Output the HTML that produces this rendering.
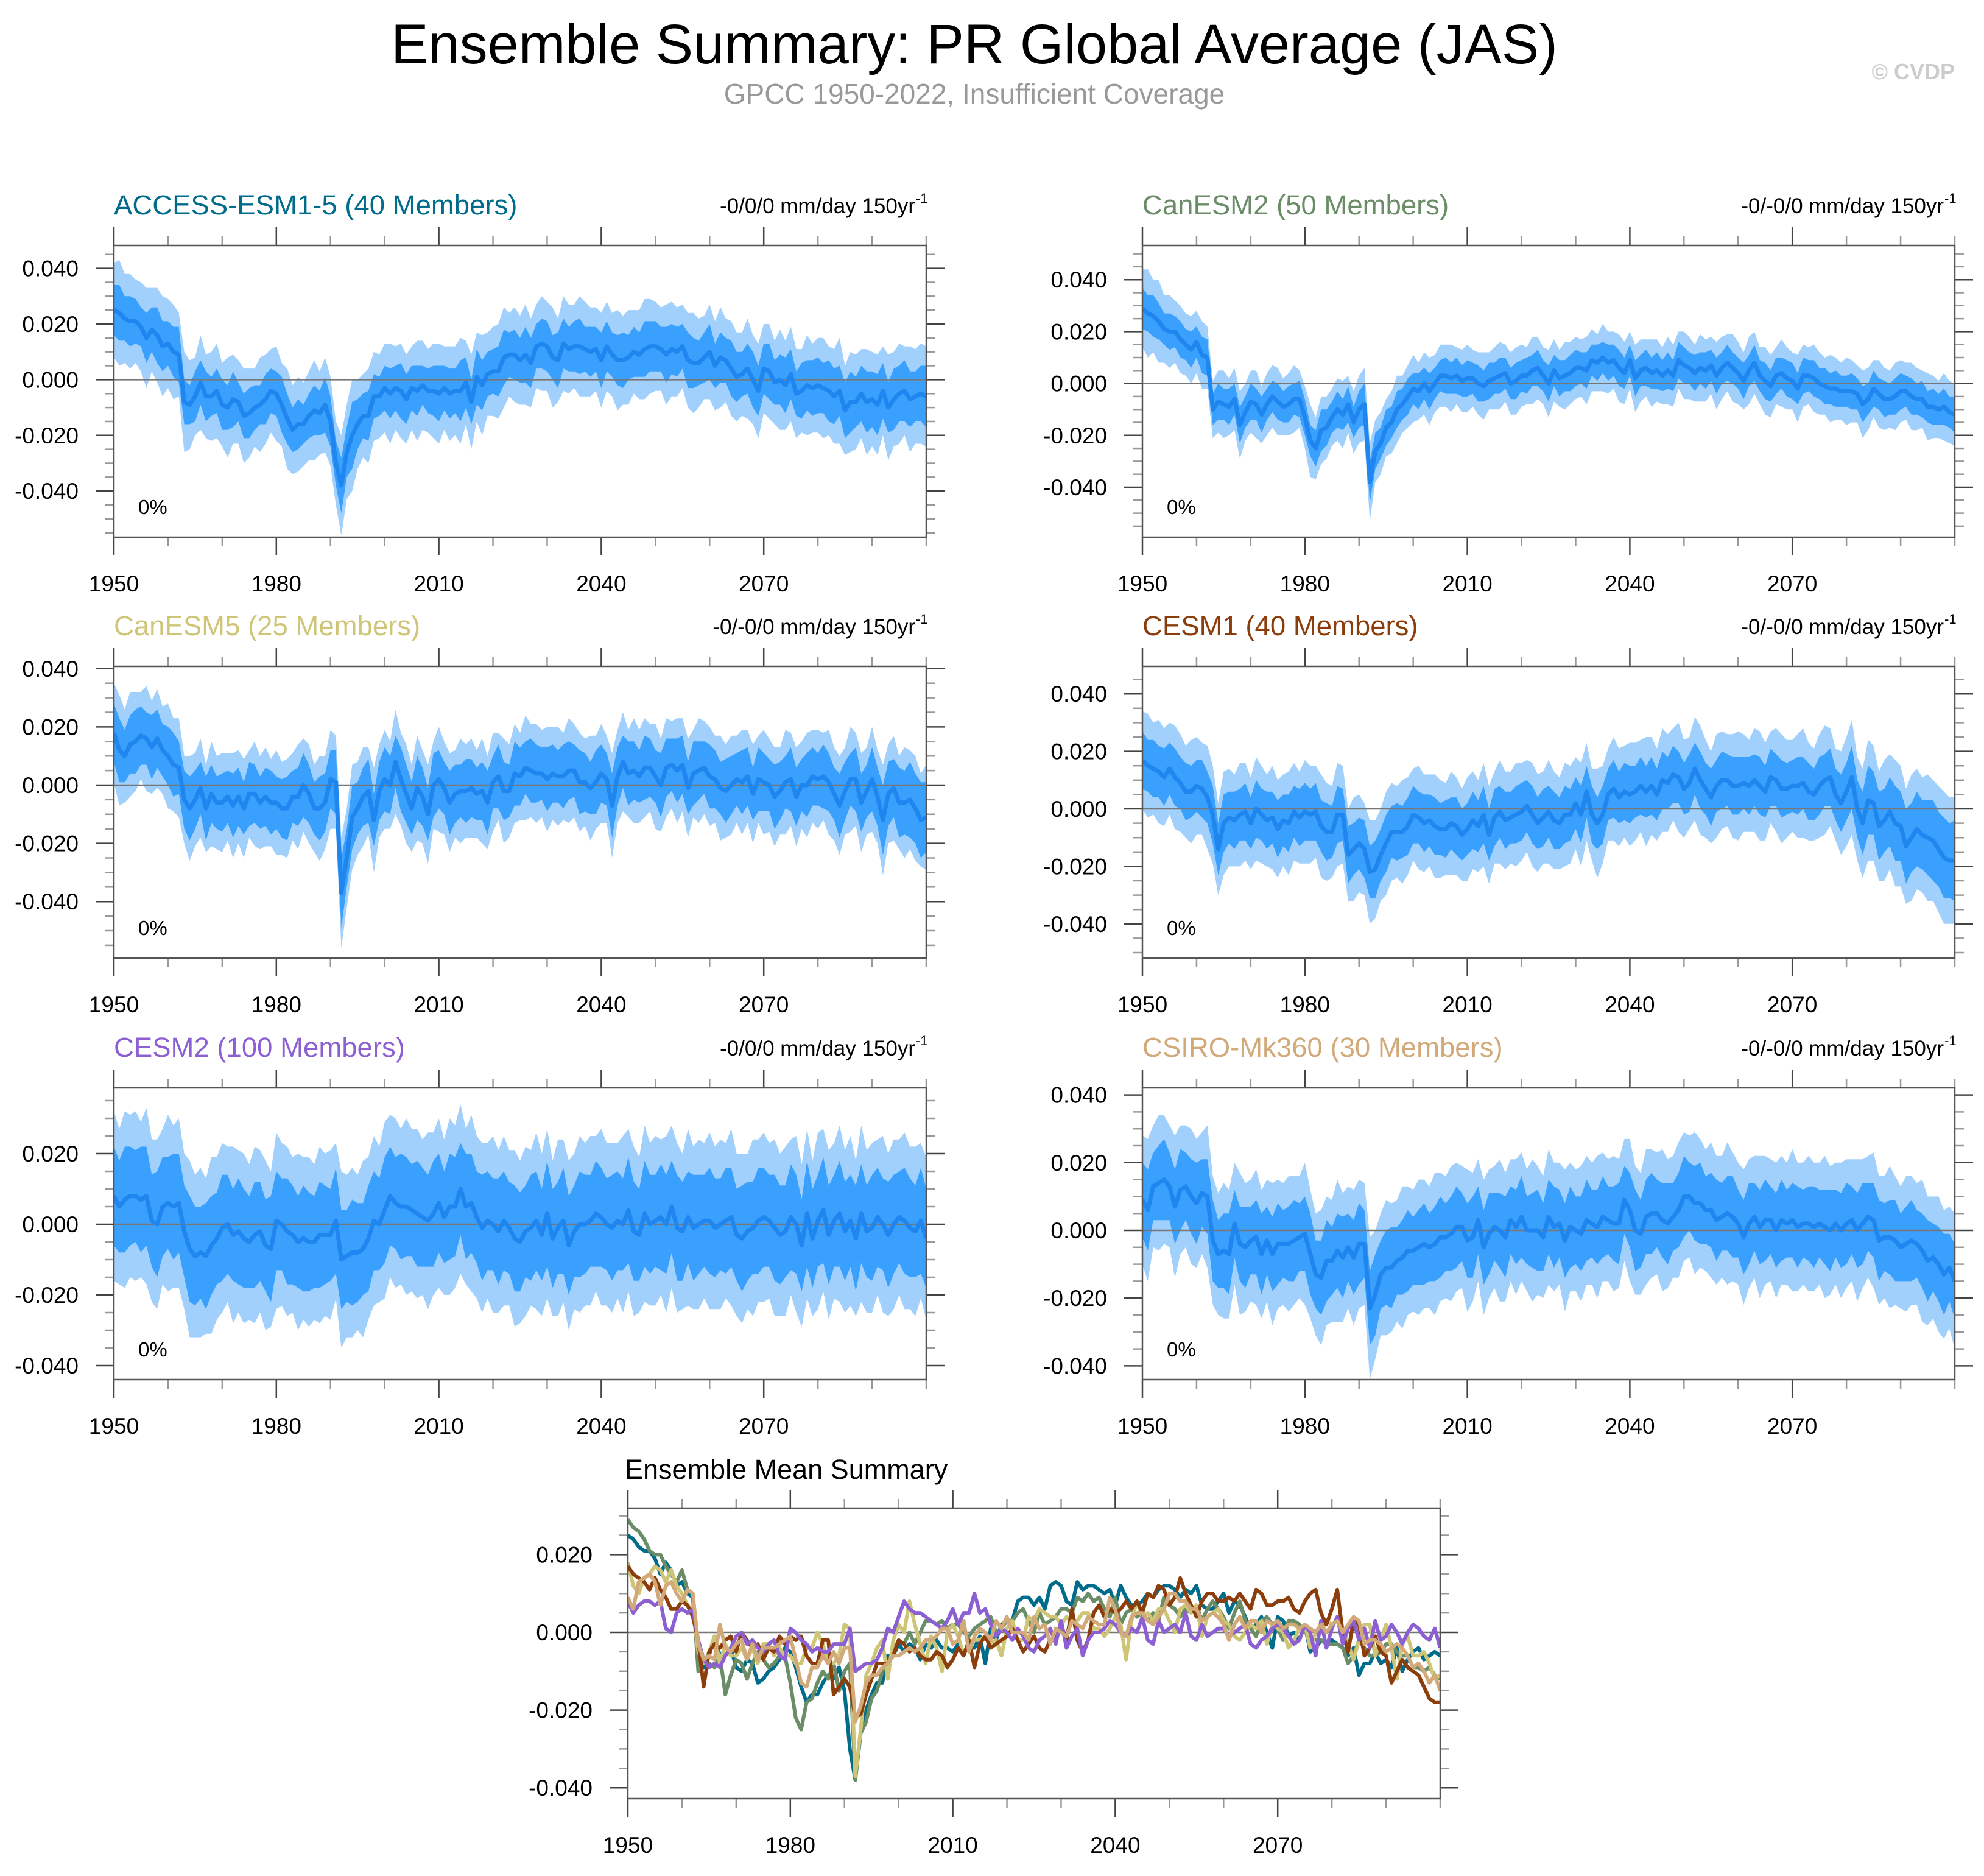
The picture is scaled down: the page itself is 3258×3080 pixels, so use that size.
<!DOCTYPE html>
<html><head><meta charset="utf-8"><title>Ensemble Summary</title>
<style>
html,body{margin:0;padding:0;background:#fff;}
body{width:3258px;height:3075px;overflow:hidden;font-family:"Liberation Sans",Arial,sans-serif;}
svg text{font-family:"Liberation Sans",Arial,sans-serif;}
</style></head>
<body>
<svg id="fig" xmlns="http://www.w3.org/2000/svg" width="3258" height="3075" viewBox="0 0 3258 3075">
<text x="1600" y="104" font-size="92" text-anchor="middle" fill="#000">Ensemble Summary: PR Global Average (JAS)</text>
<text x="1600" y="170" font-size="46" text-anchor="middle" fill="#999">GPCC 1950-2022, Insufficient Coverage</text>
<text x="3210" y="130" font-size="36" font-weight="bold" text-anchor="end" fill="#ccc">© CVDP</text>
<g id="plots"></g>
</svg>
<script>
const yearStart = 1950;
const yearEnd = 2100;
const xTickYears = [1950,1980,2010,2040,2070];
const modelNames = ["ACCESS-ESM1-5 (40 Members)","CanESM2 (50 Members)","CanESM5 (25 Members)","CESM1 (40 Members)","CESM2 (100 Members)","CSIRO-Mk360 (30 Members)"];
const trendLabels = ["-0/0/0 mm/day 150yr","-0/-0/0 mm/day 150yr","-0/-0/0 mm/day 150yr","-0/-0/0 mm/day 150yr","-0/0/0 mm/day 150yr","-0/-0/0 mm/day 150yr"];
const pctLabels = ["0%","0%","0%","0%","0%","0%"];
const yTicksA = [0.04,0.02,0,-0.02,-0.04];
const yTicksB = [0.02,0,-0.02,-0.04];
const summaryYTicks = [0.02,0,-0.02,-0.04];

// ensemble means (units of 0.001 mm/day), 1950..2100
const meanACCESS = [25,24,22,21,21,19,15,18,16,12, 13,10,9,-8,-9,-6,-1,-6,-6,-4, -9,-10,-7,-8,-13,-12,-10,-9,-7,-4, -5,-9,-14,-18,-16,-16,-13,-11,-12,-9, -15,-30,-38,-26,-20,-16,-13,-13,-6,-6, -3,-5,-3,-4,-7,-3,-4,-2,-4,-4, -5,-3,-5,-4,-4,-1,-8,1,-2,2, 3,3,8,9,9,7,9,6,12,13, 12,8,7,13,11,12,12,11,10,11, 7,12,9,7,7,8,10,9,11,12, 12,11,9,11,10,12,7,6,6,8, 10,5,8,7,4,1,2,4,0,-4, 4,3,-1,0,-2,2,-5,-4,-2,-3, -2,-3,-4,-6,-4,-11,-8,-8,-5,-8, -7,-9,-4,-10,-7,-5,-4,-7,-6,-5, -6];
const meanCanESM2 = [29,27,26,24,21,20,20,17,15,13, 16,11,10,-10,-7,-8,-9,-6,-16,-11, -7,-8,-12,-8,-5,-7,-9,-8,-6,-6, -13,-22,-25,-18,-17,-13,-10,-12,-8,-15, -10,-8,-38,-26,-23,-17,-15,-10,-8,-5, -2,-3,0,-3,0,3,3,2,3,1, 2,2,0,-1,1,2,3,4,0,1, 3,3,5,6,3,0,5,2,3,4, 6,6,5,9,8,10,8,9,6,4, 9,2,5,6,4,5,3,5,3,9, 7,6,4,6,5,7,3,6,8,6, 4,1,5,8,3,1,-1,3,4,2, 1,-2,3,3,2,0,-1,-2,-2,-3, -3,-3,-4,-8,-6,-2,-4,-6,-6,-5, -3,-3,-5,-6,-6,-9,-9,-10,-9,-11, -12];
const meanCanESM5 = [18,12,10,14,15,17,16,13,16,12, 10,7,6,-5,-8,-5,-1,-8,-3,-6, -6,-4,-7,-4,-8,-3,-3,-6,-4,-6, -6,-8,-8,-4,-4,0,-3,-8,-8,-6, 2,1,-37,-25,-11,-8,-4,-2,-12,-2, 2,0,8,2,-3,-8,-1,-4,-10,0, 2,-1,-6,-3,-2,-2,-1,-3,-2,-6, 1,3,-2,-2,4,3,6,5,4,4, 2,4,3,3,5,5,1,1,-1,1, 4,2,-7,3,8,4,5,3,6,6, 3,0,6,7,5,7,-1,4,5,6, 3,2,-1,-2,0,2,1,3,-3,2, 1,0,-4,-2,1,2,-4,0,0,3, 2,3,1,-3,-7,-2,2,2,-6,-2, 2,-4,-12,-3,-1,-6,-6,-5,-8,-12, -11];
const meanCESM1 = [17,15,14,13,11,14,11,9,6,6, 8,7,4,-2,-14,-5,-3,-4,-2,-1, -5,0,-2,-4,-3,-7,-4,-5,-1,-3, -1,-2,-1,-6,-8,-8,-2,-2,-16,-14, -12,-14,-22,-21,-16,-12,-8,-8,-8,-6, -2,-3,-5,-4,-6,-7,-7,-5,-6,-9, -7,-4,-6,-2,-9,-3,-1,-4,-3,-2, -1,1,-2,-5,-3,-1,-4,-5,-2,-2, 2,-2,6,-2,-5,-2,5,7,4,6, 5,6,8,6,8,5,10,9,12,11, 7,9,14,10,7,4,8,10,10,8, 8,9,8,10,8,6,11,10,7,7, 8,8,9,6,5,8,10,11,5,2, 6,11,0,-5,3,2,-6,-4,-1,-5, -6,-13,-10,-7,-9,-10,-11,-14,-17,-18, -18];
const meanCESM2 = [8,5,7,8,8,7,8,1,0,5, 6,5,6,-2,-7,-9,-8,-9,-6,-4, -1,0,-3,-2,-4,-5,-3,-2,-6,-7, 1,0,-2,-3,-5,-4,-5,-5,-3,-3, -3,1,-10,-9,-8,-8,-7,-4,1,0, 4,8,6,5,5,4,3,2,1,3, 6,2,5,5,10,5,6,2,-1,1, 0,-2,1,-1,-4,-5,-2,-1,1,-3, 3,-4,-1,1,-6,-2,0,0,1,3, 2,0,-1,1,0,4,-2,-3,3,0, 1,2,0,5,-1,-2,2,-1,0,1, 1,-1,0,1,2,-3,-4,-2,-1,1, 2,1,-1,-3,-2,2,0,-6,3,-4, 1,4,-3,1,3,-2,1,-4,3,-2, -1,2,0,-3,0,2,1,-1,-2,1, -4];
const meanCSIRO = [9,6,13,14,15,13,7,12,13,10, 8,11,10,-3,-7,-6,-7,2,-4,-5, -3,-2,-7,-3,-7,-4,-4,-4,-3,-2, -1,-7,-13,-14,-9,-9,-6,-8,-5,-8, -4,-4,-23,-19,-13,-11,-11,-9,-8,-6, -6,-5,-4,-5,-4,-2,-2,-1,1,1, -3,-2,3,-5,-1,1,0,-2,3,1, 4,0,0,0,-2,4,1,2,-3,1, 0,-1,3,2,1,4,3,2,2,9, 6,0,-1,4,5,5,3,2,4,6, 10,10,8,8,6,6,3,4,5,4, 2,-2,2,4,1,3,3,0,3,2, 3,1,2,2,1,2,1,0,2,0, 2,3,0,2,4,3,-3,-2,-2,-3, -5,-4,-3,-4,-6,-9,-8,-10,-13,-11, -15];

// band half-widths (0.001 units): inner (25-75%) and outer (10-90%)
const innerACCESS = [9,10,8,9,8,7,9,8,10,9, 8,9,10,8,7,9,8,9,7,8, 9,8,10,7,8,9,8,7,9,8, 8,10,9,8,9,7,8,9,8,10, 9,8,10,9,12,9,8,9,8,7, 8,9,8,10,9,8,9,7,8,9, 10,8,9,8,11,9,8,10,9,8, 8,9,10,8,9,8,10,9,8,9, 9,8,10,9,8,9,10,8,9,8, 10,9,8,9,10,8,9,8,10,9, 9,8,10,9,9,8,10,9,8,9, 10,8,9,8,10,9,8,9,10,9, 9,10,8,9,10,9,8,10,9,10, 10,9,11,10,9,10,11,9,10,11, 10,11,10,9,11,10,11,10,9,10, 11];
const outerACCESS = [17,19,16,17,15,16,18,15,17,18, 16,17,15,18,16,14,17,15,16,17, 15,18,16,15,17,16,14,17,16,15, 17,15,18,16,17,15,16,18,15,17, 16,15,18,17,20,16,15,17,16,15, 16,18,15,17,16,15,18,16,15,17, 18,15,17,16,19,15,17,16,18,15, 16,17,18,15,17,16,18,16,15,17, 16,18,15,17,16,15,18,17,16,15, 17,16,15,18,16,17,15,16,18,17, 16,15,18,17,16,15,17,18,16,15, 17,16,18,15,17,16,15,18,16,17, 16,17,15,18,16,17,16,15,18,16, 17,18,16,17,19,16,18,17,16,19, 17,18,16,19,17,18,16,19,17,18, 18];
const innerCanESM2 = [8,7,8,7,6,7,6,7,6,7, 6,7,7,6,7,6,7,6,7,6, 7,6,7,6,6,7,6,7,6,7, 7,6,7,8,7,6,7,6,7,6, 7,8,8,7,6,7,6,7,6,7, 6,7,6,7,6,6,7,6,7,6, 7,6,7,6,7,6,7,6,6,7, 6,7,6,7,6,7,6,7,6,7, 7,6,7,6,7,6,7,6,7,6, 6,7,6,7,6,7,6,7,6,7, 7,6,7,6,7,6,7,6,7,6, 6,7,6,7,6,7,6,7,6,7, 7,6,7,6,7,6,7,6,7,6, 6,7,6,7,6,7,6,7,6,7, 7,6,7,6,7,6,7,6,7,6, 7];
const outerCanESM2 = [15,17,14,16,13,14,12,13,12,13, 12,13,12,11,12,13,11,12,13,11, 12,13,11,12,12,13,11,12,13,11, 12,14,12,13,12,11,12,13,11,12, 13,14,15,12,12,11,12,13,11,12, 13,11,12,13,11,12,12,13,11,12, 13,11,12,13,11,12,13,11,12,13, 12,11,13,12,11,13,12,11,13,12, 12,11,13,12,11,13,12,11,13,12, 11,13,12,11,13,12,11,13,12,11, 13,12,11,13,12,11,13,12,11,13, 12,11,13,12,11,13,12,11,13,12, 11,13,12,11,13,12,11,13,12,11, 13,12,11,13,12,11,13,12,11,13, 12,11,13,12,11,13,12,11,13,12, 12];
const innerCanESM5 = [10,11,9,10,11,10,9,11,10,9, 10,11,9,10,11,10,9,11,10,9, 10,9,11,10,9,11,10,9,10,11, 9,10,11,9,10,11,10,9,11,10, 10,11,12,10,11,9,10,11,9,10, 11,10,9,11,10,9,11,10,9,11, 10,9,11,10,9,11,10,9,10,11, 9,11,10,9,11,10,9,11,10,9, 11,10,9,11,10,9,11,10,9,11, 10,9,11,10,9,11,10,9,11,10, 9,11,10,9,11,10,9,11,10,9, 11,10,9,11,10,9,11,10,9,11, 10,9,11,10,9,11,10,9,11,10, 9,11,10,9,11,10,9,11,10,9, 11,10,12,11,10,12,11,13,12,13, 12];
const outerCanESM5 = [17,19,16,18,17,15,18,16,17,15, 18,16,17,15,18,16,17,15,18,16, 17,15,18,16,17,15,18,16,17,15, 18,16,17,15,18,16,17,15,18,16, 17,16,19,17,18,16,17,15,18,16, 17,15,18,16,17,15,18,16,17,15, 18,16,17,15,18,16,17,15,18,16, 17,15,18,16,17,15,18,16,17,15, 18,16,17,15,18,16,17,15,18,16, 17,15,18,16,17,15,18,16,17,15, 18,16,17,15,18,16,17,15,18,16, 17,15,18,16,17,15,18,16,17,15, 18,16,17,15,18,16,17,15,18,16, 17,15,18,16,17,15,18,16,17,15, 18,16,19,17,18,16,19,17,18,16, 18];
const innerCESM1 = [10,9,10,9,10,9,10,9,10,9, 9,10,9,10,9,10,9,10,9,10, 9,10,9,10,9,10,9,10,9,10, 10,9,10,9,10,9,10,9,10,9, 9,10,9,10,9,10,9,10,9,10, 10,9,10,9,10,9,10,9,10,9, 9,10,9,10,9,10,9,10,9,10, 10,9,10,9,10,9,10,9,10,9, 9,10,9,10,9,10,9,10,9,10, 10,9,10,9,10,9,10,9,10,9, 9,10,9,10,9,10,9,10,9,10, 10,9,10,9,10,9,10,9,10,9, 9,10,9,10,9,10,9,10,9,10, 10,11,10,11,12,11,12,11,12,13, 12,13,12,13,12,13,14,13,14,13, 14];
const outerCESM1 = [17,18,16,18,17,16,18,17,16,18, 17,16,18,17,16,18,17,16,18,17, 16,18,17,16,18,17,16,18,17,16, 18,17,16,18,17,16,18,17,16,18, 17,16,18,17,16,18,17,16,18,17, 16,18,17,16,18,17,16,18,17,16, 18,17,16,18,17,16,18,17,16,18, 17,16,18,17,16,18,17,16,18,17, 16,18,17,16,19,17,16,18,17,16, 18,17,16,19,17,16,18,17,16,19, 17,16,18,19,17,16,18,17,16,18, 19,17,16,18,19,17,16,18,19,17, 16,18,19,17,16,18,19,17,16,18, 19,20,18,19,21,20,19,21,20,22, 21,20,22,21,20,22,21,22,23,22, 22];
const innerCESM2 = [14,13,15,14,13,15,14,13,15,14, 13,15,14,13,15,14,13,15,14,13, 15,14,13,15,14,13,15,14,13,15, 14,13,15,14,13,15,14,13,15,14, 13,15,14,13,15,14,13,15,14,13, 15,14,13,15,14,13,15,14,13,15, 14,13,15,14,13,15,14,13,15,14, 13,15,14,13,15,14,13,15,14,13, 15,14,13,15,14,13,15,14,13,15, 14,13,15,14,13,15,14,13,15,14, 13,15,14,13,15,14,13,15,14,13, 15,14,13,15,14,13,15,14,13,15, 14,13,15,14,13,15,14,13,15,14, 13,15,14,13,15,14,13,15,14,13, 15,14,13,15,14,13,15,14,13,15, 14];
const outerCESM2 = [24,22,25,23,24,22,25,23,24,22, 25,23,24,22,25,23,24,22,25,23, 24,22,25,23,24,22,25,23,24,22, 25,23,24,22,25,23,24,22,25,23, 24,22,25,23,24,22,25,23,24,22, 25,23,24,22,25,23,24,22,25,23, 24,22,25,23,24,22,25,23,24,22, 25,23,24,22,25,23,24,22,25,23, 24,22,25,23,24,22,25,23,24,22, 25,23,24,22,25,23,24,22,25,23, 24,22,25,23,24,22,25,23,24,22, 25,23,24,22,25,23,24,22,25,23, 24,22,25,23,24,22,25,23,24,22, 25,23,24,22,25,23,24,22,25,23, 24,22,25,23,24,22,25,23,24,22, 23];
const innerCSIRO = [11,12,10,11,12,10,11,12,10,11, 12,10,11,12,10,11,12,10,11,12, 10,11,12,10,11,12,10,11,12,10, 11,12,10,11,12,10,11,12,10,11, 12,10,11,12,10,11,12,10,11,12, 10,11,12,10,11,12,10,11,12,10, 11,12,10,11,12,10,11,12,10,11, 12,10,11,12,10,11,12,10,11,12, 10,11,12,10,11,12,10,11,12,10, 11,12,10,11,12,10,11,12,10,11, 12,10,11,12,10,11,12,10,11,12, 10,11,12,10,11,12,10,11,12,10, 11,12,10,11,12,10,11,12,10,11, 12,10,11,12,10,11,12,10,11,12, 10,11,12,10,11,12,10,11,12,10, 11];
const outerCSIRO = [19,21,18,20,19,18,21,19,18,20, 19,18,21,19,18,20,19,18,21,19, 18,20,19,18,21,19,18,20,19,18, 21,19,18,20,19,18,21,19,18,20, 19,18,21,19,18,20,19,18,21,19, 18,20,19,18,21,19,18,20,19,18, 21,19,18,20,19,18,21,19,18,20, 19,18,21,19,18,20,19,18,21,19, 18,20,19,18,21,19,18,20,19,18, 21,19,18,20,19,18,21,19,18,20, 19,18,21,19,18,20,19,18,21,19, 18,20,19,18,21,19,18,20,19,18, 21,19,18,20,19,18,21,19,18,20, 19,18,21,19,18,20,19,18,21,19, 18,20,19,18,21,19,18,20,19,18, 20];

const summaryColors = ["#006c8c","#6a8c66","#cfc576","#8c3d0c","#8c60d2","#d2aa7a"];

const NS = "http://www.w3.org/2000/svg";
const root = document.getElementById("plots");
function mk(tag, attrs, parent){
  const e = document.createElementNS(NS, tag);
  for (const k in attrs) e.setAttribute(k, attrs[k]);
  (parent||root).appendChild(e);
  return e;
}

const panels = [
  {mean:meanACCESS, inner:innerACCESS, outer:outerACCESS, x0:187, x1:1521, yt:403, yb:882, zero:623.4, per:4.57, ticks:yTicksA},
  {mean:meanCanESM2, inner:innerCanESM2, outer:outerCanESM2, x0:1876, x1:3210, yt:403, yb:882, zero:629.6, per:4.26, ticks:yTicksA},
  {mean:meanCanESM5, inner:innerCanESM5, outer:outerCanESM5, x0:187, x1:1521, yt:1094, yb:1573, zero:1289, per:4.78, ticks:yTicksA},
  {mean:meanCESM1, inner:innerCESM1, outer:outerCESM1, x0:1876, x1:3210, yt:1094, yb:1573, zero:1328, per:4.72, ticks:yTicksA},
  {mean:meanCESM2, inner:innerCESM2, outer:outerCESM2, x0:187, x1:1521, yt:1786, yb:2265, zero:2010, per:5.8, ticks:yTicksB},
  {mean:meanCSIRO, inner:innerCSIRO, outer:outerCSIRO, x0:1876, x1:3210, yt:1786, yb:2265, zero:2020, per:5.56, ticks:yTicksA}
];

function fmt(v){ return (v<0?"-":"") + Math.abs(v).toFixed(3); }

function axes(g, P){
  const xs = y => P.x0 + (y - yearStart) / (yearEnd - yearStart) * (P.x1 - P.x0);
  const ys = v => P.zero - v * 1000 * P.per;
  const vTop = (P.zero - P.yt) / (1000*P.per), vBot = (P.zero - P.yb) / (1000*P.per);
  for (let k = Math.ceil(vBot/0.005); k*0.005 <= vTop; k++){
    const v = k*0.005, y = ys(v);
    const major = P.ticks.some(t => Math.abs(t - v) < 1e-9);
    const L = major ? 30 : 15;
    const t1 = mk("line",{x1:P.x0-L,x2:P.x0,y1:y,y2:y,stroke:major?"#444":"#999","stroke-width":2.5},g);
    
    
    const t2 = mk("line",{x1:P.x1,x2:P.x1+L,y1:y,y2:y,stroke:major?"#444":"#999","stroke-width":2.5},g);
    
    
  }
  P.ticks.forEach(v => {
    const t = mk("text",{x:P.x0-58,y:ys(v)+13,"font-size":37,"text-anchor":"end",fill:"#000"},g);
    t.textContent = fmt(v);
    
    
  });
  for (let yr = yearStart; yr <= yearEnd; yr += 10){
    const major = xTickYears.includes(yr);
    const L = major ? 30 : 15, x = xs(yr);
    const a = mk("line",{x1:x,x2:x,y1:P.yt-L,y2:P.yt,stroke:major?"#444":"#999","stroke-width":2.5},g);
    
    
    const b = mk("line",{x1:x,x2:x,y1:P.yb,y2:P.yb+L,stroke:major?"#444":"#999","stroke-width":2.5},g);
    
    
  }
  xTickYears.forEach(yr => {
    const t = mk("text",{x:xs(yr),y:P.yb+89,"font-size":37,"text-anchor":"middle",fill:"#000"},g);
    t.textContent = yr;
    
    
  });
  return {xs, ys};
}

function bandPath(P, xs, ys, hw){
  let up = [], dn = [];
  for (let i = 0; i < P.mean.length; i++){
    const yr = yearStart + i;
    up.push(xs(yr).toFixed(1)+","+ys((P.mean[i]+hw[i])/1000).toFixed(1));
    dn.push(xs(yr).toFixed(1)+","+ys((P.mean[i]-hw[i])/1000).toFixed(1));
  }
  return "M" + up.join("L") + "L" + dn.reverse().join("L") + "Z";
}

panels.forEach((P, idx) => {
  const g = mk("g",{});
  
  
  const clipId = "clip"+idx;
  const cp = mk("clipPath",{id:clipId},g);
  mk("rect",{x:P.x0,y:P.yt,width:P.x1-P.x0,height:P.yb-P.yt},cp);
  const {xs, ys} = axes(g, P);
  const inner = mk("g",{"clip-path":"url(#"+clipId+")"},g);
  const o = mk("path",{d:bandPath(P,xs,ys,P.outer),fill:"#a1d0fd"},inner);
  
  
  const n = mk("path",{d:bandPath(P,xs,ys,P.inner),fill:"#3aa0fe"},inner);
  
  
  const z = mk("line",{x1:P.x0,x2:P.x1,y1:ys(0),y2:ys(0),stroke:"#777","stroke-width":2.5},inner);
  
  
  const pts = P.mean.map((v,i)=> xs(yearStart+i).toFixed(1)+","+ys(v/1000).toFixed(1)).join(" ");
  const l = mk("polyline",{points:pts,fill:"none",stroke:"#1e86ee","stroke-width":7,"stroke-linejoin":"round"},inner);
  
  
  const box = mk("rect",{x:P.x0,y:P.yt,width:P.x1-P.x0,height:P.yb-P.yt,fill:"none",stroke:"#555","stroke-width":2.5},g);
  
  
  const tt = mk("text",{x:P.x0,y:P.yt-51,"font-size":45.5,fill:summaryColors[idx]},g);
  tt.textContent = modelNames[idx];
  
  
  const tr = mk("text",{x:P.x1-18,y:P.yt-53,"font-size":35,"text-anchor":"end",fill:"#000"},g);
  tr.textContent = trendLabels[idx];
  
  
  const sup = mk("text",{x:P.x1-17,y:P.yt-70,"font-size":22,"text-anchor":"start",fill:"#000"},g);
  sup.textContent = "-1";
  
  
  const pc = mk("text",{x:P.x0+40,y:P.yb-38,"font-size":33,fill:"#000"},g);
  pc.textContent = pctLabels[idx];
  
  
});

// Summary panel
const S = {x0:1031, x1:2365, yt:2476, yb:2953, zero:2680, per:6.38, ticks:summaryYTicks};
const sg = mk("g",{});


const scp = mk("clipPath",{id:"clipS"},sg);
mk("rect",{x:S.x0,y:S.yt,width:S.x1-S.x0,height:S.yb-S.yt},scp);
const sax = axes(sg, S);
const sin = mk("g",{"clip-path":"url(#clipS)"},sg);
const sz = mk("line",{x1:S.x0,x2:S.x1,y1:sax.ys(0),y2:sax.ys(0),stroke:"#777","stroke-width":2.5},sin);


const summarySeries = [meanACCESS, meanCanESM2, meanCanESM5, meanCESM1, meanCESM2, meanCSIRO];
const seriesNames = ["access","canesm2","canesm5","cesm1","cesm2","csiro"];
summarySeries.forEach((arr, k) => {
  const pts = arr.map((v,i)=> sax.xs(yearStart+i).toFixed(1)+","+sax.ys(v/1000).toFixed(1)).join(" ");
  const l = mk("polyline",{points:pts,fill:"none",stroke:summaryColors[k],"stroke-width":6,"stroke-linejoin":"round"},sin);
  
  
});
const sb = mk("rect",{x:S.x0,y:S.yt,width:S.x1-S.x0,height:S.yb-S.yt,fill:"none",stroke:"#555","stroke-width":2.5},sg);


const st = mk("text",{x:S.x0-5,y:S.yt-48,"font-size":45,fill:"#000"},sg);
st.textContent = "Ensemble Mean Summary";


</script>
</body></html>
